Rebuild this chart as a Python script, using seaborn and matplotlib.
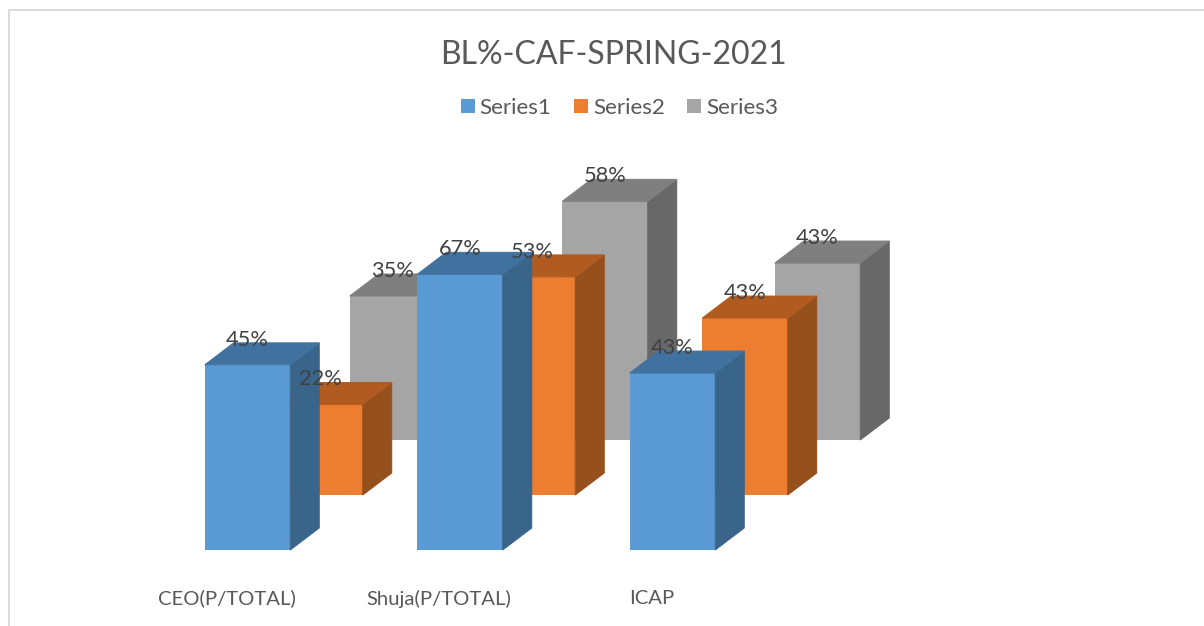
import matplotlib
matplotlib.use('Agg')
import matplotlib.pyplot as plt
import pandas as pd
import seaborn as sns
from matplotlib.lines import Line2D
from matplotlib.patches import Patch, Polygon
from matplotlib.transforms import ScaledTranslation

categories = ['CEO(P/TOTAL)', 'Shuja(P/TOTAL)', 'ICAP']
series_names = ['Series1', 'Series2', 'Series3']
series1 = [45, 67, 43]
series2 = [22, 53, 43]
series3 = [35, 58, 43]
all_series = [series1, series2, series3]

front_colors = ['#5B9BD5', '#ED7D31', '#A5A5A5']
top_colors = ['#41729F', '#B25B20', '#7F7F7F']
side_colors = ['#39658A', '#96501C', '#686868']

W, H = 1204, 626
sns.set_theme(style='white')
plt.rcParams['font.family'] = ['Lato', 'DejaVu Sans']

fig = plt.figure(figsize=(W / 100, H / 100), dpi=100, facecolor='white')

# px layout of the fake 3d columns
spacing = 212.5
px_per_pct = 4.115
depth_x = 29 / spacing
depth_y = 22 / px_per_pct
ymax = 75

# back series first so the front ones cover it
for i in [2, 1, 0]:
    left = 247.5 + i * 72.5 - spacing / 2
    bottom = 550 - i * 55
    ax = fig.add_axes([left / W, (H - bottom) / H, spacing * 3 / W, ymax * px_per_pct / H])
    ax.patch.set_alpha(0)
    df = pd.DataFrame({'name': categories, 'value': all_series[i]})
    sns.barplot(data=df, x='name', y='value', color=front_colors[i], saturation=1,
                width=85.5 / spacing, linewidth=0, ax=ax)
    ax.set_xlim(-0.5, 2.5)
    ax.set_ylim(0, ymax)
    ax.set_xlabel('')
    ax.set_ylabel('')
    ax.set_yticks([])
    sns.despine(ax=ax, left=True, bottom=True)
    if i == 0:
        ax.tick_params(axis='x', length=0, pad=28.5, labelsize=14.6, labelcolor='#595959')
        shift = ScaledTranslation(-21 / 100, 0, fig.dpi_scale_trans)
        for lab in ax.get_xticklabels():
            lab.set_transform(lab.get_transform() + shift)
    else:
        ax.set_xticks([])

    for bar, v in zip(ax.patches, all_series[i]):
        x0 = bar.get_x()
        x1 = x0 + bar.get_width()
        side = [(x1, 0), (x1 + depth_x, depth_y), (x1 + depth_x, v + depth_y), (x1, v)]
        top = [(x0, v), (x0 + depth_x, v + depth_y), (x1 + depth_x, v + depth_y), (x1, v)]
        # thin edge in the same colour closes the seam to the front face
        ax.add_patch(Polygon(side, closed=True, fc=side_colors[i], ec=side_colors[i], lw=0.7, clip_on=False))
        ax.add_patch(Polygon(top, closed=True, fc=top_colors[i], ec=top_colors[i], lw=0.7, clip_on=False))
        # labels go on the figure so they stay above every column
        lift = ScaledTranslation(0, 25 / 100, fig.dpi_scale_trans)
        fig.text(x0 + bar.get_width() / 2, v, f'{v}%', transform=ax.transData + lift,
                 ha='center', va='center', fontsize=15.7, color='#404040', zorder=10)

fig.text(613 / W, 1 - 55 / H, 'BL%-CAF-SPRING-2021', ha='center', va='center',
         fontsize=23, color='#595959')

handles = [Patch(fc=c, ec='none', label=n) for c, n in zip(front_colors, series_names)]
fig.legend(handles=handles, loc='center', bbox_to_anchor=(619.5 / W, 1 - 108 / H), ncol=3,
           frameon=False, fontsize=16.2, labelcolor='#595959', handlelength=0.62,
           handleheight=0.62, handletextpad=0.22, columnspacing=1.0)

# chart area border, only left and top are in the crop
fig.add_artist(Line2D([9 / W, 9 / W, 1], [0, 1 - 10 / H, 1 - 10 / H], color='#D9D9D9', lw=1.4))

fig.savefig('out.png', dpi=100)
